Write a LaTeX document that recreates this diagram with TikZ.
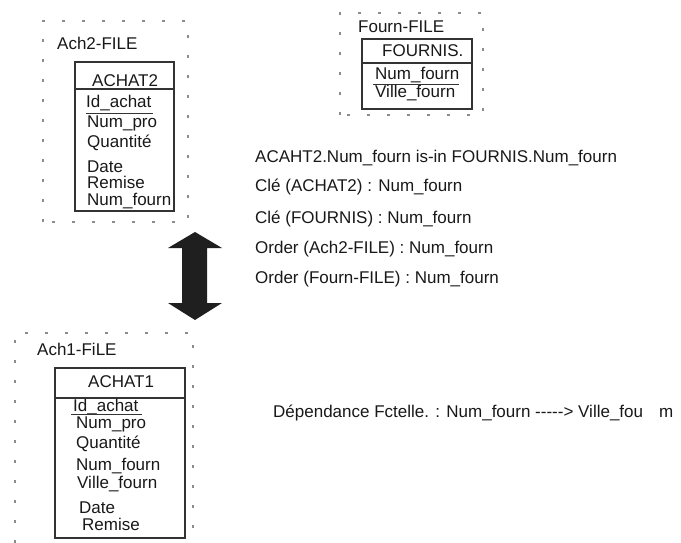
\documentclass[tikz,border=0pt]{standalone}
\usepackage{fontspec}
\setmainfont{Liberation Sans}
\begin{document}
\begin{tikzpicture}[x=1pt,y=-1pt,
  txt/.style={anchor=base west,inner sep=0pt,text=black!90,font=\fontsize{17}{20}\selectfont},
  frame/.style={draw=black!45,line width=1.1pt,dash pattern=on 3pt off 17pt},
  tbox/.style={draw=black!80,line width=1.1pt},
  uline/.style={draw=black!80,line width=0.9pt}]
\useasboundingbox (0,0) rectangle (681,543);
\fill[white] (0,0) rectangle (681,543);

% ---------- Ach2-FILE ----------
\draw[frame] (43,222) -- (43,21) -- (188,21) -- (188,222) -- cycle;
\node[txt] (l2) at (57,50) {Ach2-FILE};
\draw[tbox] (75,62) rectangle (174,211);
\draw[tbox] (75,89) -- (174,89);
\node[txt] (h2) at (92,86.5) {ACHAT2};
\node[txt] (a1) at (86,108) {Id\_achat};
\draw[uline] ([yshift=-5pt]a1.base west) -- ([yshift=-5pt,xshift=1pt]a1.base east);
\node[txt] (a2) at (87,128) {Num\_pro};
\node[txt] (a3) at (87,147) {Quantité};
\node[txt] (a4) at (87,172) {Date};
\node[txt] (a5) at (87,188) {Remise};
\node[txt] (a6) at (87,205) {Num\_fourn};

% ---------- Fourn-FILE ----------
\draw[frame] (340,115) -- (340,13) -- (483,13) -- (483,115) -- cycle;
\node[txt] (lf) at (358,33) {Fourn-FILE};
\draw[tbox] (362,39) rectangle (472,109);
\draw[tbox] (362,63) -- (472,63);
\node[txt] (hf) at (382,57) {FOURNIS.};
\node[txt] (f1) at (375,80) {Num\_fourn};
\draw[uline] ([yshift=-4pt,xshift=-2pt]f1.base west) -- ([yshift=-4pt]f1.base east);
\node[txt] (f2) at (375,98) {Ville\_fourn};

% ---------- constraints ----------
\node[txt] (c1) at (255,163) {ACAHT2.Num\_fourn is-in FOURNIS.Num\_fourn};
\node[txt] (c2) at (255,191) {Clé (ACHAT2) : Num\_fourn};
\node[txt] (c3) at (255,223) {Clé (FOURNIS) : Num\_fourn};
\node[txt] (c4) at (255,253) {Order (Ach2-FILE) : Num\_fourn};
\node[txt] (c5) at (255,283) {Order (Fourn-FILE) : Num\_fourn};

% ---------- double arrow ----------
\fill[black!88] (195,232) -- (222,248) -- (207,248) -- (207,303) -- (222,303)
  -- (195,320) -- (168,303) -- (182,303) -- (182,248) -- (168,248) -- cycle;

% ---------- Ach1-FILE ----------
\draw[frame] (15,543) -- (15,333) -- (193,333) -- (193,543);
\node[txt] (l1) at (37,355) {Ach1-FiLE};
\draw[tbox] (55,368) rectangle (185,538);
\draw[tbox] (55,398) -- (185,398);
\node[txt] (h1) at (88,387) {ACHAT1};
\node[txt] (b1) at (73,411) {Id\_achat};
\draw[uline] ([yshift=-3pt,xshift=-2pt]b1.base west) -- ([yshift=-3pt,xshift=3pt]b1.base east);
\node[txt] (b2) at (76,428) {Num\_pro};
\node[txt] (b3) at (76,448) {Quantité};
\node[txt] (b4) at (76,470) {Num\_fourn};
\node[txt] (b5) at (77,488) {Ville\_fourn};
\node[txt] (b6) at (79,513) {Date};
\node[txt] (b7) at (82,530) {Remise};

% ---------- dependency ----------
\node[txt] (dep) at (273,417) {Dépendance Fctelle. : Num\_fourn -{}-{}-{}-{}-> Ville\_fou\hspace{16pt}m};
\end{tikzpicture}
\end{document}
